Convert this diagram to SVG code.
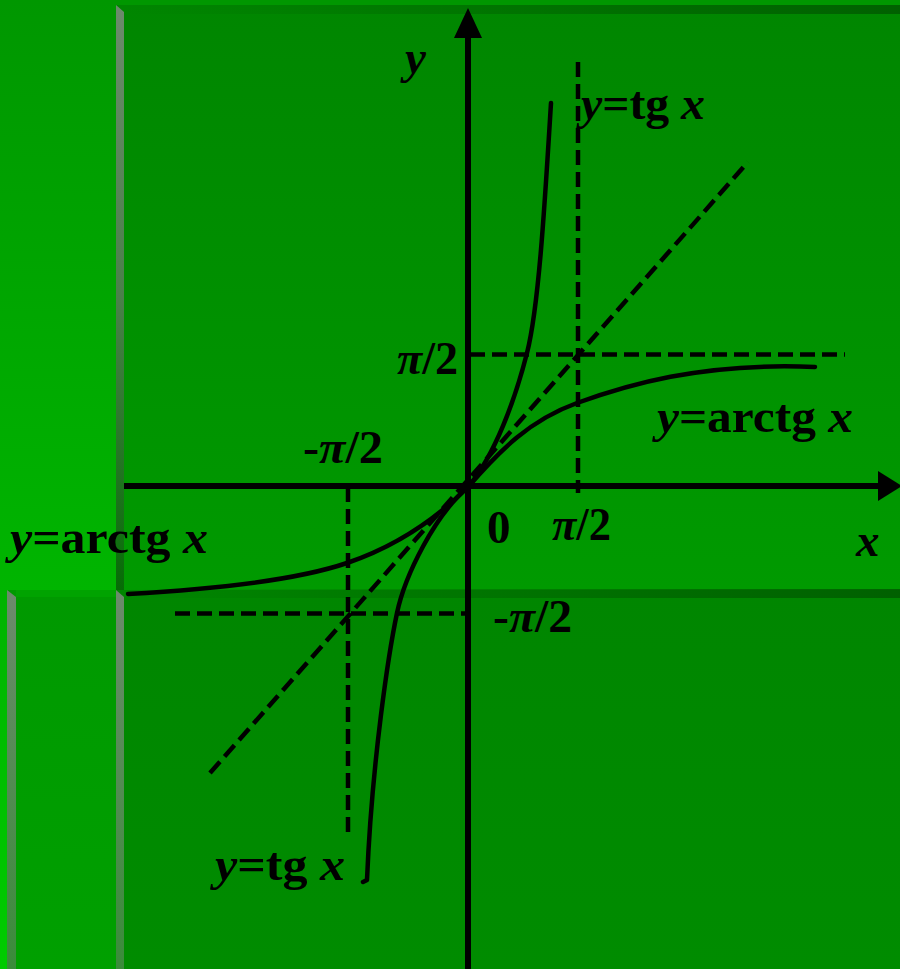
<svg xmlns="http://www.w3.org/2000/svg" width="900" height="969" viewBox="0 0 900 969">
<defs>
<linearGradient id="gTL" x1="0" y1="0" x2="0" y2="1"><stop offset="0" stop-color="#009700"/><stop offset="1" stop-color="#00b500"/></linearGradient>
<linearGradient id="gLS" x1="0" y1="0" x2="0" y2="1"><stop offset="0" stop-color="#00b300"/><stop offset="1" stop-color="#00cc00"/></linearGradient>
<linearGradient id="gLL" x1="0" y1="0" x2="0" y2="1"><stop offset="0" stop-color="#009900"/><stop offset="1" stop-color="#00a000"/></linearGradient>
<linearGradient id="gUR" x1="0" y1="0" x2="0" y2="1"><stop offset="0" stop-color="#008600"/><stop offset="1" stop-color="#009a00"/></linearGradient>
<linearGradient id="gLR" x1="0" y1="0" x2="0" y2="1"><stop offset="0" stop-color="#008600"/><stop offset="1" stop-color="#008c00"/></linearGradient>
<linearGradient id="gBU" x1="0" y1="0" x2="0" y2="1"><stop offset="0" stop-color="#6c8a6c"/><stop offset="0.5" stop-color="#4a804a"/><stop offset="1" stop-color="#066c06"/></linearGradient>
<linearGradient id="gBL" x1="0" y1="0" x2="0" y2="1"><stop offset="0" stop-color="#6c8a6c"/><stop offset="1" stop-color="#3a8c3a"/></linearGradient>
<linearGradient id="gBand" x1="0" y1="0" x2="1" y2="0"><stop offset="0" stop-color="#005a00" stop-opacity="0"/><stop offset="1" stop-color="#005a00" stop-opacity="0.85"/></linearGradient>
<style>
.ax{stroke:#000;stroke-width:6;fill:none}
.cv{stroke:#000;stroke-width:4.5;fill:none;stroke-linejoin:round;stroke-linecap:round}
.ds{stroke:#000;stroke-width:4.5;fill:none;stroke-dasharray:15 7}
.lb{font-family:"Liberation Serif","Times New Roman",serif;font-weight:bold;font-size:47px;fill:#000}
.it{font-style:italic}
</style>
</defs>
<g id="background">
<rect x="0" y="0" width="900" height="969" fill="#00a800"/>
<rect x="0" y="0" width="116" height="590" fill="url(#gTL)"/>
<rect x="116" y="0" width="784" height="5" fill="#009700"/>
<rect x="0" y="590" width="7" height="379" fill="url(#gLS)"/>
<rect x="7" y="590" width="109" height="379" fill="url(#gLL)"/>
<rect x="16" y="590" width="100" height="7" fill="#00a300"/>
<polygon points="7,590 16,597 16,969 7,969" fill="url(#gBL)"/>
<rect x="116" y="5" width="784" height="585" fill="url(#gUR)"/>
<rect x="124" y="5" width="776" height="9" fill="url(#gBand)"/>
<polygon points="116,5 124,12 124,590 116,590" fill="url(#gBU)"/>
<rect x="116" y="590" width="784" height="379" fill="url(#gLR)"/>
<rect x="124" y="589" width="776" height="9" fill="url(#gBand)"/>
<polygon points="116,590 124,597 124,969 116,969" fill="url(#gBL)"/>
</g>
<g id="guides">
<line class="ds" x1="578" y1="62" x2="578" y2="493"/>
<line class="ds" x1="470" y1="354.5" x2="845" y2="354.5"/>
<line class="ds" x1="348" y1="487" x2="348" y2="836"/>
<line class="ds" x1="175" y1="613.5" x2="465" y2="613.5"/>
<line class="ds" x1="210" y1="773" x2="748" y2="162"/>
</g>
<g id="axes">
<line class="ax" x1="124" y1="486" x2="880" y2="486"/>
<polygon points="878,471 902,486 878,501" fill="#000"/>
<line class="ax" x1="468" y1="969" x2="468" y2="36"/>
<polygon points="468,8 454,38 482,38" fill="#000"/>
</g>
<g id="curves">
<path id="tg-upper" class="cv" d="M468,487 C495,455 515,400 527,353 S545,200 551,103"/>
<path id="arctg-upper" class="cv" d="M468,487 C500,450 530,420 577,403 S700,362 815,367"/>
<path id="tg-lower" class="cv" d="M468,487 C435,515 405,575 397,613 S372,760 367,880 L363,882"/>
<path id="arctg-lower" class="cv" d="M468,487 C440,515 400,545 347,563 S200,590 128,594"/>
</g>
<g id="labels">
<text class="lb it" x="405" y="73">y</text>
<text class="lb" x="581" y="119" textLength="124" lengthAdjust="spacingAndGlyphs"><tspan class="it">y</tspan>=tg <tspan class="it">x</tspan></text>
<text class="lb" x="397" y="374" textLength="61" lengthAdjust="spacingAndGlyphs"><tspan class="it">π</tspan>/2</text>
<text class="lb" x="657" y="432" textLength="196" lengthAdjust="spacingAndGlyphs"><tspan class="it">y</tspan>=arctg <tspan class="it">x</tspan></text>
<text class="lb" x="303" y="463" textLength="80" lengthAdjust="spacingAndGlyphs">-<tspan class="it">π</tspan>/2</text>
<text class="lb" x="487" y="543">0</text>
<text class="lb" x="552" y="540" textLength="59" lengthAdjust="spacingAndGlyphs"><tspan class="it">π</tspan>/2</text>
<text class="lb it" x="856" y="556">x</text>
<text class="lb" x="10" y="553" textLength="198" lengthAdjust="spacingAndGlyphs"><tspan class="it">y</tspan>=arctg <tspan class="it">x</tspan></text>
<text class="lb" x="493" y="632" textLength="79" lengthAdjust="spacingAndGlyphs">-<tspan class="it">π</tspan>/2</text>
<text class="lb" x="215" y="880" textLength="130" lengthAdjust="spacingAndGlyphs"><tspan class="it">y</tspan>=tg <tspan class="it">x</tspan></text>
</g>
</svg>
